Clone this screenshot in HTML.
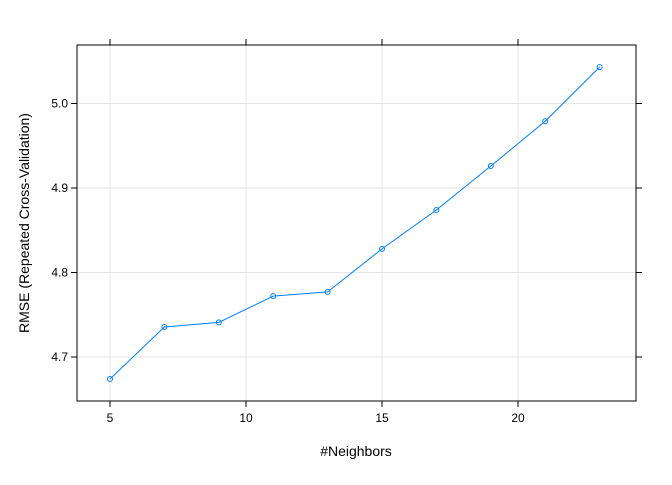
<!DOCTYPE html>
<html><head><meta charset="utf-8"><style>
body{margin:0;background:#fff;}
svg text{font-family:"Liberation Sans",sans-serif;}
</style></head><body>
<svg id="chart" width="672" height="480" xmlns="http://www.w3.org/2000/svg">
<rect width="672" height="480" fill="#fff"/>
<g id="grid"></g>
<g id="axes"></g>
<g id="series"></g>
<text x="356" y="456" font-size="14" text-anchor="middle" fill="#000">#Neighbors</text>
<text transform="translate(29,223) rotate(-90)" font-size="14" text-anchor="middle" fill="#000">RMSE (Repeated Cross-Validation)</text>
</svg>
<script>
const neighbors=[5,7,9,11,13,15,17,19,21,23];
const rmse=[4.674,4.7355,4.741,4.772,4.777,4.828,4.874,4.926,4.979,5.043];
const xTicks=[5,10,15,20];
const yTicks=[4.7,4.8,4.9,5.0];
const yTickLabels=["4.7","4.8","4.9","5.0"];
const L=77,R=636,T=45,B=401;
function sx(v){return 110+(v-5)*27.2;}
function sy(v){return 357-(v-4.7)*845;}
const NS="http://www.w3.org/2000/svg";
function mk(parent,tag,attrs){const e=document.createElementNS(NS,tag);for(const k in attrs)e.setAttribute(k,attrs[k]);document.getElementById(parent).appendChild(e);return e;}
xTicks.forEach(t=>{
 const g=mk('grid','line',{x1:sx(t),x2:sx(t),y1:T,y2:B,stroke:'#e6e6e6'});
 
 
 mk('axes','line',{x1:sx(t),x2:sx(t),y1:B,y2:B+6,stroke:'#000'});
 mk('axes','line',{x1:sx(t),x2:sx(t),y1:T-6,y2:T,stroke:'#000'});
 const tx=mk('axes','text',{x:sx(t),y:B+21,'font-size':12,'text-anchor':'middle',fill:'#000'});
 tx.textContent=t;
 
 
});
yTicks.forEach((t,i)=>{
 const g=mk('grid','line',{x1:L,x2:R,y1:sy(t),y2:sy(t),stroke:'#e6e6e6'});
 
 
 mk('axes','line',{x1:L-6,x2:L,y1:sy(t),y2:sy(t),stroke:'#000'});
 mk('axes','line',{x1:R,x2:R+6,y1:sy(t),y2:sy(t),stroke:'#000'});
 const tx=mk('axes','text',{x:L-9,y:sy(t)+4,'font-size':12,'text-anchor':'end',fill:'#000'});
 tx.textContent=yTickLabels[i];
 
 
});
const box=mk('axes','rect',{x:L,y:T,width:R-L,height:B-T,fill:'none',stroke:'#000'});


const line=mk('series','polyline',{points:neighbors.map((n,i)=>sx(n)+','+sy(rmse[i])).join(' '),fill:'none',stroke:'#0080ff','stroke-width':1});


neighbors.forEach((n,i)=>{
 const c=mk('series','circle',{cx:sx(n),cy:sy(rmse[i]),r:2.5,fill:'none',stroke:'#0080ff','stroke-width':1});
 
 
});
</script>
</body></html>
